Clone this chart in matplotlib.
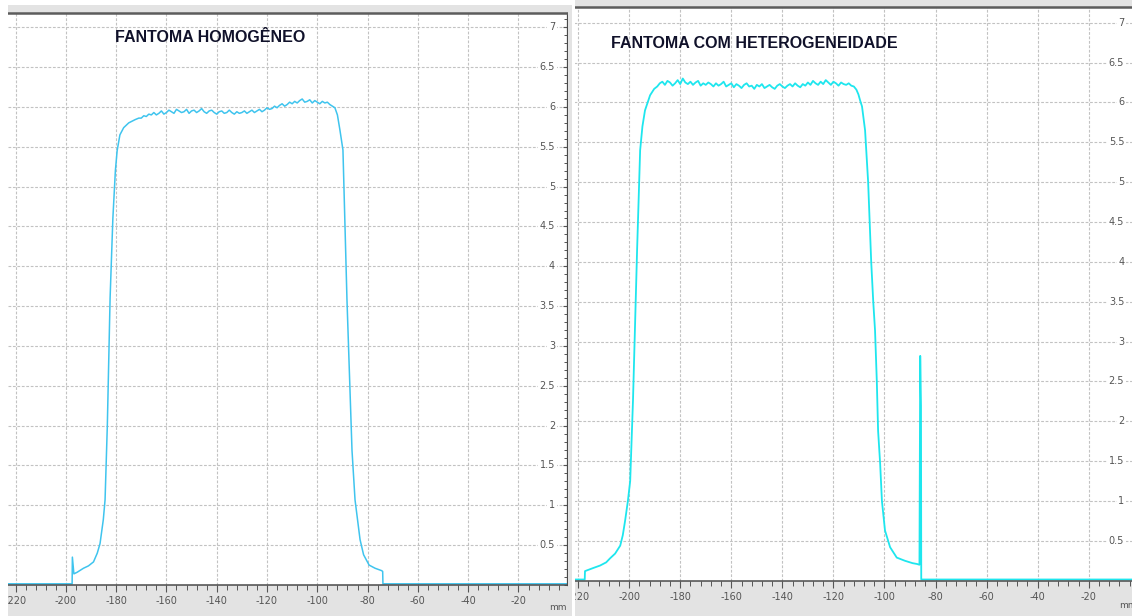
import numpy as np
import matplotlib
matplotlib.use("Agg")
import matplotlib.pyplot as plt
from matplotlib.patches import Rectangle
from matplotlib.ticker import MultipleLocator

# ---------------- data (dose profile, mm vs. value) ----------------
x_ticks = [-220, -200, -180, -160, -140, -120, -100, -80, -60, -40, -20]
x_tick_labels = ["-220", "-200", "-180", "-160", "-140", "-120", "-100",
                 "-80", "-60", "-40", "-20"]
y_ticks = [0.5, 1, 1.5, 2, 2.5, 3, 3.5, 4, 4.5, 5, 5.5, 6, 6.5, 7]
y_tick_labels = ["0.5", "1", "1.5", "2", "2.5", "3", "3.5", "4", "4.5",
                 "5", "5.5", "6", "6.5", "7"]

# Homogeneous phantom
homog_rise_mm = [-230, -197.5, -197.4, -196.8, -195.5, -193.0, -191.0, -189.0,
                 -187.5, -186.4, -185.1, -184.4, -183.5, -182.4, -181.3, -180.3,
                 -179.6, -178.5, -177.0, -175.0, -172.5, -171.0]
homog_rise_val = [0.015, 0.015, 0.35, 0.14, 0.16, 0.21, 0.24, 0.29,
                  0.40, 0.52, 0.82, 1.07, 2.0, 3.6, 4.6, 5.2,
                  5.45, 5.65, 5.74, 5.80, 5.84, 5.86]
homog_plateau_start, homog_plateau_end = -170, -94
homog_plateau_val = [
    5.86, 5.89, 5.88, 5.91, 5.90, 5.93, 5.90, 5.92, 5.95, 5.91,
    5.93, 5.96, 5.94, 5.92, 5.97, 5.95, 5.93, 5.94, 5.97, 5.92,
    5.95, 5.96, 5.93, 5.95, 5.98, 5.94, 5.92, 5.95, 5.96, 5.93,
    5.91, 5.94, 5.95, 5.92, 5.93, 5.96, 5.93, 5.91, 5.94, 5.92,
    5.93, 5.95, 5.92, 5.94, 5.96, 5.93, 5.95, 5.97, 5.94, 5.96,
    5.99, 5.97, 5.98, 6.01, 5.99, 6.02, 6.04, 6.01, 6.03, 6.06,
    6.04, 6.07, 6.05, 6.08, 6.10, 6.06, 6.07, 6.09, 6.05, 6.08,
    6.06, 6.04, 6.07, 6.05, 6.06, 6.03, 6.01]
homog_fall_mm = [-93.0, -92.0, -91.0, -89.8, -88.2, -86.2, -85.0, -83.0,
                 -81.6, -79.4, -77.0, -74.4, -74.0, -73.9, 5]
homog_fall_val = [5.99, 5.90, 5.71, 5.46, 3.58, 1.69, 1.07, 0.57,
                  0.38, 0.25, 0.21, 0.18, 0.17, 0.015, 0.015]

# Phantom with heterogeneity
hetero_rise_mm = [-230, -217.4, -217.3, -216.5, -214.0, -211.4, -209.0, -207.5,
                  -205.5, -203.5, -202.5, -201.6, -200.5, -199.6, -198.5, -196.9,
                  -195.7, -194.8, -193.8, -191.8, -190.2]
hetero_rise_val = [0.015, 0.015, 0.12, 0.13, 0.16, 0.19, 0.23, 0.28,
                   0.34, 0.44, 0.57, 0.75, 1.0, 1.25, 2.26, 4.14,
                   5.40, 5.70, 5.90, 6.09, 6.17]
hetero_plateau_start, hetero_plateau_end = -189, -112
hetero_plateau_val = [
    6.20, 6.24, 6.26, 6.22, 6.27, 6.25, 6.21, 6.24, 6.28, 6.23,
    6.30, 6.25, 6.23, 6.26, 6.22, 6.25, 6.27, 6.21, 6.24, 6.22,
    6.25, 6.23, 6.20, 6.24, 6.21, 6.23, 6.26, 6.20, 6.22, 6.24,
    6.19, 6.23, 6.21, 6.18, 6.22, 6.24, 6.20, 6.21, 6.17, 6.22,
    6.20, 6.23, 6.18, 6.20, 6.22, 6.19, 6.17, 6.21, 6.23, 6.20,
    6.18, 6.21, 6.23, 6.20, 6.24, 6.21, 6.19, 6.23, 6.21, 6.25,
    6.22, 6.27, 6.24, 6.22, 6.26, 6.23, 6.28, 6.25, 6.22, 6.26,
    6.24, 6.21, 6.25, 6.23, 6.22, 6.24, 6.21, 6.20]
hetero_fall_mm = [-111.0, -110.2, -109.5, -108.8, -107.6, -106.4, -105.2, -104.4,
                  -103.7, -103.0, -102.5, -101.7, -101.0, -99.8, -97.8, -95.2,
                  -92.0, -89.0, -87.3, -86.3, -86.0, -85.7, -85.6, 5]
hetero_fall_val = [6.16, 6.10, 6.02, 5.95, 5.65, 5.0, 4.0, 3.5,
                   3.14, 2.5, 1.88, 1.47, 1.0, 0.63, 0.42, 0.29,
                   0.25, 0.22, 0.21, 0.20, 2.82, 2.2, 0.015, 0.015]


def profile(rise_mm, rise_val, p_start, p_end, p_val, fall_mm, fall_val):
    p_mm = np.linspace(p_start, p_end, len(p_val))
    x = np.concatenate([rise_mm, p_mm, fall_mm])
    y = np.concatenate([rise_val, p_val, fall_val])
    return x, y


# ---------------- figure layout (pixel based) ----------------
W, H = 1132, 616
fig = plt.figure(figsize=(W / 100, H / 100), dpi=100)
fig.patch.set_facecolor("white")

FRAME = "#e3e3e3"


def px_rect(x0, y0, x1, y1, color, z):
    r = Rectangle((x0 / W, 1 - y1 / H), (x1 - x0) / W, (y1 - y0) / H,
                  transform=fig.transFigure, facecolor=color,
                  edgecolor="none", zorder=z)
    fig.add_artist(r)


def px_axes(x0, x1, y0, y1):
    return fig.add_axes([x0 / W, 1 - y1 / H, (x1 - x0) / W, (y1 - y0) / H])


# grey window frames behind the plot areas
px_rect(8, 5, 571, 616, FRAME, -2)
px_rect(575, 0, 1140, 616, FRAME, -2)

axL = px_axes(8, 567, 12.7, 585)
axR = px_axes(573.5, 1139.8, 7, 580.7)


def style(ax, xlim, ylim, label_offset):
    ax.set_xlim(*xlim)
    ax.set_ylim(*ylim)
    ax.set_facecolor("white")
    ax.spines["left"].set_visible(False)
    ax.spines["top"].set_color("#5c5c5c")
    ax.spines["top"].set_linewidth(1.8)
    ax.spines["bottom"].set_color("#4a4a4a")
    ax.spines["bottom"].set_linewidth(1.1)
    ax.spines["right"].set_color("#4a4a4a")
    ax.spines["right"].set_linewidth(0.9)

    ax.set_xticks(x_ticks)
    ax.set_xticklabels(x_tick_labels)
    ax.xaxis.set_minor_locator(MultipleLocator(4))
    ax.tick_params(axis="x", which="major", direction="out", length=5,
                   width=0.8, color="#555555", labelsize=7,
                   labelcolor="#555555", pad=3)
    ax.tick_params(axis="x", which="minor", direction="out", length=3.5,
                   width=0.7, color="#555555")

    ax.yaxis.tick_right()
    ax.set_yticks(y_ticks)
    ax.set_yticklabels([])
    ax.yaxis.set_minor_locator(MultipleLocator(0.1))
    ax.tick_params(axis="y", which="major", direction="inout", length=6,
                   width=0.8, color="#555555")
    ax.tick_params(axis="y", which="minor", direction="inout", length=4,
                   width=0.7, color="#555555")

    ax.grid(True, which="major", color="#c2c2c2",
            linestyle=(0, (2.5, 1.5)), linewidth=0.8)
    ax.set_axisbelow(True)

    for v, lab in zip(y_ticks, y_tick_labels):
        ax.annotate(lab, xy=(1, v), xycoords=("axes fraction", "data"),
                    xytext=(label_offset, 0), textcoords="offset points",
                    ha="right", va="center", fontsize=7, color="#555555",
                    bbox=dict(boxstyle="square,pad=0.15", fc="white",
                              ec="none"), zorder=3)


style(axL, (-223, -0.7), (0, 7.183), -8.6)
style(axR, (-221.8, 0), (0, 7.197), -11.2)

xh, yh = profile(homog_rise_mm, homog_rise_val, homog_plateau_start,
                 homog_plateau_end, homog_plateau_val,
                 homog_fall_mm, homog_fall_val)
axL.plot(xh, yh, color="#3fc4ee", linewidth=1.1, zorder=2)

xr, yr = profile(hetero_rise_mm, hetero_rise_val, hetero_plateau_start,
                 hetero_plateau_end, hetero_plateau_val,
                 hetero_fall_mm, hetero_fall_val)
axR.plot(xr, yr, color="#1ee6ee", linewidth=1.3, zorder=2)

# strips separating the two windows
px_rect(0, 0, 8, 616, "white", 10)
px_rect(568, 5, 571.5, 616, FRAME, 10)
px_rect(571.5, 0, 575, 616, "white", 10)

# unit labels
fig.text(558 / W, 1 - 607 / H, "mm", ha="center", va="center",
         fontsize=6.5, color="#555555")
fig.text(1128 / W, 1 - 605 / H, "mm", ha="center", va="center",
         fontsize=6.5, color="#555555")

# panel titles
fig.text(210 / W, 1 - 37 / H, "FANTOMA HOMOGÊNEO", ha="center",
         va="center", fontsize=11.5, fontweight="bold",
         family="Liberation Sans", color="#10112a")
fig.text(754.5 / W, 1 - 43 / H, "FANTOMA COM HETEROGENEIDADE", ha="center",
         va="center", fontsize=11.5, fontweight="bold",
         family="Liberation Sans", color="#10112a")

fig.savefig("out.png", dpi=100, facecolor="white")
